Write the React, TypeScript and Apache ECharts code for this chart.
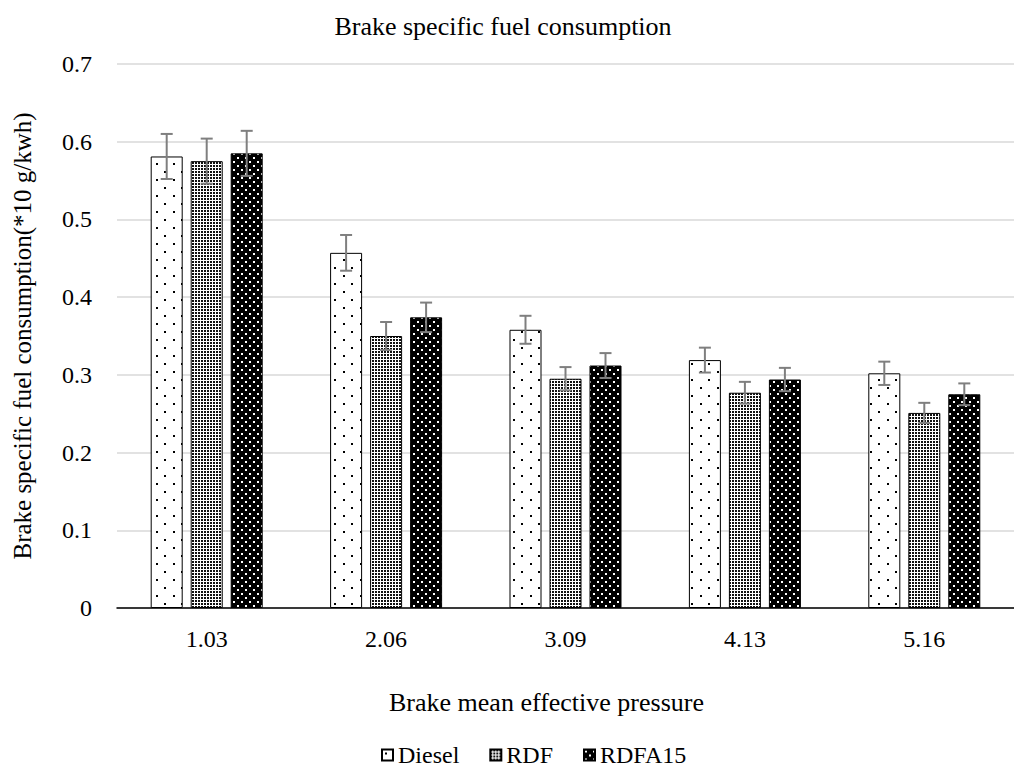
import React, { useEffect, useRef } from "react";
import * as echarts from "echarts";

const categories = ["1.03", "2.06", "3.09", "4.13", "5.16"];
const seriesNames = ["Diesel", "RDF", "RDFA15"];
const dieselValues = [0.581, 0.457, 0.358, 0.319, 0.302];
const rdfValues = [0.575, 0.350, 0.295, 0.277, 0.251];
const rdfa15Values = [0.585, 0.374, 0.312, 0.294, 0.275];
const dieselErrors = [0.029, 0.023, 0.018, 0.016, 0.015];
const rdfErrors = [0.029, 0.018, 0.015, 0.014, 0.013];
const rdfa15Errors = [0.029, 0.019, 0.016, 0.015, 0.014];
const yTicks = { min: 0, max: 0.7, interval: 0.1 };

const FONT = "'Liberation Serif', 'Times New Roman', serif";

function makePattern(kind: string): string {
  const c = document.createElement("canvas");
  const ctx = c.getContext("2d")!;
  if (kind === "sparse") {
    c.width = 17;
    c.height = 16;
    ctx.fillStyle = "#fff";
    ctx.fillRect(0, 0, 17, 16);
    ctx.fillStyle = "#000";
    ctx.fillRect(3, 3, 2, 2);
    ctx.fillRect(11, 11, 2, 2);
  } else if (kind === "dense") {
    c.width = 3;
    c.height = 3;
    ctx.fillStyle = "#fff";
    ctx.fillRect(0, 0, 3, 3);
    ctx.fillStyle = "#111";
    ctx.fillRect(0, 0, 2, 2);
  } else {
    c.width = 8;
    c.height = 8;
    ctx.fillStyle = "#000";
    ctx.fillRect(0, 0, 8, 8);
    ctx.fillStyle = "#fff";
    ctx.fillRect(1, 1, 2, 2);
    ctx.fillRect(5, 5, 2, 2);
  }
  return c.toDataURL();
}

export default function App() {
  const ref = useRef<HTMLDivElement>(null);
  useEffect(() => {
    if (!ref.current) return;
    const chart = echarts.init(ref.current, undefined, { renderer: "svg" });
    const patterns = [makePattern("sparse"), makePattern("dense"), makePattern("solid")];
    const values = [dieselValues, rdfValues, rdfa15Values];
    const errors = [dieselErrors, rdfErrors, rdfa15Errors];
    const barWidth = 32;
    const step = 40;

    const barSeries = seriesNames.map((name, s) => ({
      name,
      type: "bar",
      data: values[s],
      barWidth,
      barGap: "25%",
      itemStyle: {
        color: { image: patterns[s], repeat: "repeat" },
        borderColor: "#000",
        borderWidth: 1,
      },
      z: 2,
    }));

    const errSeries = seriesNames.map((name, s) => ({
      name: name + " error",
      type: "custom",
      data: values[s].map((v, i) => [i, v, errors[s][i]]),
      z: 5,
      silent: true,
      renderItem: (params: any, api: any) => {
        const i = api.value(0);
        const v = api.value(1);
        const e = api.value(2);
        const top = api.coord([i, v + e]);
        const bot = api.coord([i, v - e]);
        const x = top[0] + (s - 1) * step;
        const cap = 6;
        const style = { stroke: "#7f7f7f", lineWidth: 2 };
        return {
          type: "group",
          children: [
            { type: "line", shape: { x1: x, y1: top[1], x2: x, y2: bot[1] }, style },
            { type: "line", shape: { x1: x - cap, y1: top[1], x2: x + cap, y2: top[1] }, style },
            { type: "line", shape: { x1: x - cap, y1: bot[1], x2: x + cap, y2: bot[1] }, style },
          ],
        };
      },
    }));

    chart.setOption({
      animation: false,
      backgroundColor: "#fff",
      title: {
        text: "Brake specific fuel consumption",
        left: 503,
        top: 13,
        textAlign: "center",
        padding: 0,
        textStyle: { fontFamily: FONT, fontSize: 26, fontWeight: "normal", color: "#000" },
      },
      legend: {
        data: seriesNames,
        icon: "rect",
        left: 381,
        top: 743,
        padding: 0,
        itemWidth: 11,
        itemHeight: 11,
        itemGap: 30,
        textStyle: { fontFamily: FONT, fontSize: 24, lineHeight: 24, color: "#000", padding: [0, 0, 0, 0] },
      },
      grid: { left: 117, right: -13, top: 64, bottom: 161, containLabel: false },
      xAxis: {
        type: "category",
        data: categories,
        name: "Brake mean effective pressure",
        nameLocation: "middle",
        nameGap: 81,
        nameTextStyle: { fontFamily: FONT, fontSize: 26, color: "#000", padding: [0, 38, 0, 0] },
        axisLine: { lineStyle: { color: "#000", width: 1.5 } },
        axisTick: { show: false },
        axisLabel: { fontFamily: FONT, fontSize: 24, color: "#000", margin: 19 },
      },
      yAxis: {
        type: "value",
        min: yTicks.min,
        max: yTicks.max,
        interval: yTicks.interval,
        name: "Brake specific fuel consumption(*10 g/kwh)",
        nameLocation: "middle",
        nameGap: 82,
        nameTextStyle: { fontFamily: FONT, fontSize: 25, color: "#000" },
        axisLine: { show: false },
        axisTick: { show: false },
        axisLabel: { fontFamily: FONT, fontSize: 24, color: "#000", margin: 25 },
        splitLine: { lineStyle: { color: "#d9d9d9", width: 1.5 } },
      },
      series: [...barSeries, ...errSeries],
    } as any);
    return () => chart.dispose();
  }, []);
  return (
    <div
      ref={ref}
      style={{ position: "absolute", left: 0, top: 0, width: 1014, height: 769 }}
    />
  );
}
